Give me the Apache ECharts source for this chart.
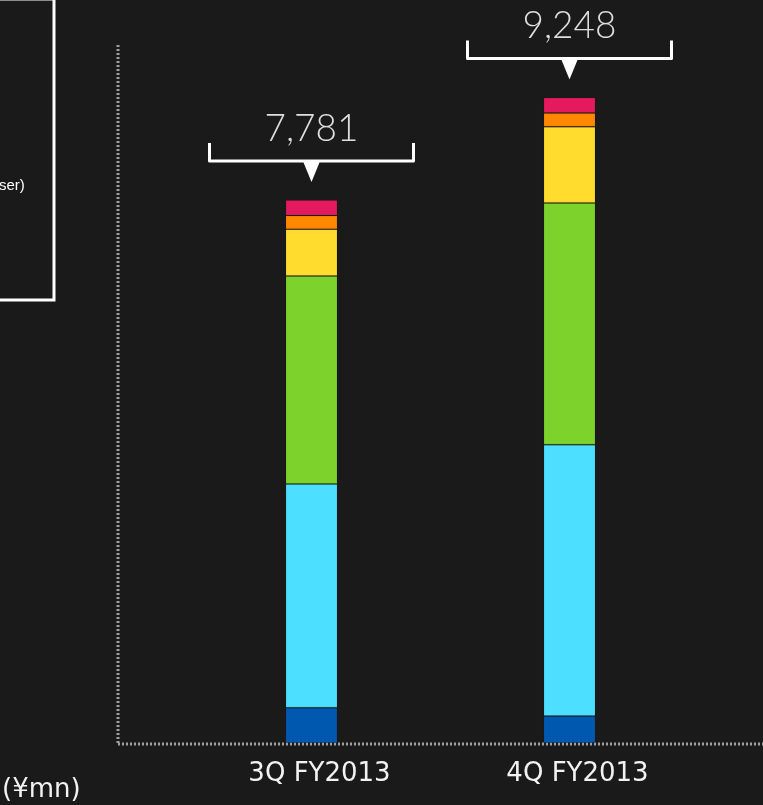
<!DOCTYPE html>
<html>
<head>
<meta charset="utf-8">
<script src="https://cdn.jsdelivr.net/npm/echarts@6/dist/echarts.min.js"></script>
<style>
  html, body { margin: 0; padding: 0; background: #1a1a1a; }
  #chart { width: 763px; height: 805px; }
</style>
</head>
<body>
<div id="chart"></div>
<script>
// Quarterly revenue by segment (¥mn)
const categories = ['3Q FY2013', '4Q FY2013'];
const segBlue   = [506, 386];
const segCyan   = [3206, 3888];
const segGreen  = [2980, 3464];
const segYellow = [669, 1092];
const segOrange = [195, 194];
const segPink   = [225, 224];
const unitLabel = '(¥mn)';
const legendTail = 'ser)';

const segments = [
  { name: 'Blue',   data: segBlue,   color: '#0059ae' },
  { name: 'Cyan',   data: segCyan,   color: '#4ddfff' },
  { name: 'Green',  data: segGreen,  color: '#7dd32b' },
  { name: 'Yellow', data: segYellow, color: '#ffdc2e' },
  { name: 'Orange', data: segOrange, color: '#ff8800' },
  { name: 'Pink',   data: segPink,   color: '#e4195e' }
];

// Each quarter sits in a slot with empty spacer bands around it
const slotOf = i => 2 * i + 1;
const axisCats = [''];
categories.forEach(c => { axisCats.push(c, ''); });
const toSlots = arr => {
  const out = axisCats.map(() => null);
  arr.forEach((v, i) => { out[slotOf(i)] = v; });
  return out;
};

const totals = categories.map((_, i) => segments.reduce((s, seg) => s + seg.data[i], 0));

const dotted = { color: '#a0a0a0', width: 3, type: [2, 2], cap: 'butt' };

const barSeries = segments.map(seg => ({
  name: seg.name,
  type: 'bar',
  stack: 'total',
  barWidth: 52,
  data: toSlots(seg.data),
  itemStyle: { color: seg.color, borderColor: 'rgba(0,0,0,0.1)', borderWidth: 1 },
  emphasis: { disabled: true }
}));

// Bracket with pointer and total value above each stack
const totalSeries = {
  type: 'custom',
  silent: true,
  z: 5,
  data: totals.map((t, i) => [slotOf(i), t]),
  renderItem: function (params, api) {
    const p = api.coord([api.value(0), api.value(1)]);
    const x = p[0], y = p[1];
    const half = 102;
    return {
      type: 'group',
      children: [
        {
          type: 'polyline',
          shape: { points: [[x - half, y - 57], [x - half, y - 39], [x + half, y - 39], [x + half, y - 57]] },
          style: { stroke: '#ffffff', lineWidth: 3, fill: null, lineJoin: 'round' }
        },
        {
          type: 'polygon',
          shape: { points: [[x - 9, y - 40], [x + 9, y - 40], [x, y - 18]] },
          style: { fill: '#ffffff' }
        },
        {
          type: 'text',
          style: {
            text: api.value(1).toLocaleString('en-US'),
            x: x, y: y - 71,
            align: 'center', verticalAlign: 'middle',
            fill: '#dedede',
            font: '300 37px Lato, "Open Sans", sans-serif'
          }
        }
      ]
    };
  }
};

const chart = echarts.init(document.getElementById('chart'));
chart.setOption({
  backgroundColor: '#1a1a1a',
  animation: false,
  grid: { left: 118, right: 0, top: 45, bottom: 62 },
  xAxis: {
    type: 'category',
    data: axisCats,
    axisLine: { show: false },
    axisTick: { show: false },
    axisLabel: {
      interval: 0,
      margin: 18,
      padding: [0, 0, 0, 16],
      color: '#f2f2f2',
      fontFamily: 'DejaVu Sans',
      fontSize: 26
    },
    splitLine: { show: false }
  },
  yAxis: {
    type: 'value',
    min: 0,
    max: 10000,
    axisLine: { show: false },
    axisTick: { show: false },
    axisLabel: { show: false },
    splitLine: { show: false }
  },
  series: barSeries.concat([totalSeries]),
  graphic: [
    {
      type: 'rect',
      shape: { x: -10, y: -1, width: 64, height: 301 },
      style: { fill: null, stroke: '#ffffff', lineWidth: 3 }
    },
    {
      type: 'text',
      x: -1, y: 186,
      style: {
        text: legendTail, fill: '#ffffff',
        font: '15px "Liberation Sans", Arial, sans-serif',
        verticalAlign: 'middle'
      }
    },
    {
      type: 'text',
      x: 2, y: 790,
      style: {
        text: unitLabel, fill: '#f2f2f2',
        font: '26px "DejaVu Sans", sans-serif',
        verticalAlign: 'middle'
      }
    }
  ]
});

// Dotted frame along the plot's left and bottom edges, placed from the axis scales
function drawFrame() {
  const origin = chart.convertToPixel({ gridIndex: 0 }, [0, 0]);
  const rect = chart.getModel().getComponent('grid', 0).coordinateSystem.getRect();
  const left = rect.x, bottom = rect.y + rect.height, top = rect.y, right = rect.x + rect.width;
  const lineStyle = { stroke: dotted.color, lineWidth: dotted.width, lineDash: dotted.type, lineCap: 'butt' };
  chart.setOption({
    graphic: [
      { type: 'line', id: 'frameY', shape: { x1: left, y1: bottom, x2: left, y2: top }, style: lineStyle, z: 1 },
      { type: 'line', id: 'frameX', shape: { x1: left, y1: bottom + 1, x2: right, y2: bottom + 1 }, style: lineStyle, z: 1 }
    ]
  });
}
drawFrame();
</script>
</body>
</html>
